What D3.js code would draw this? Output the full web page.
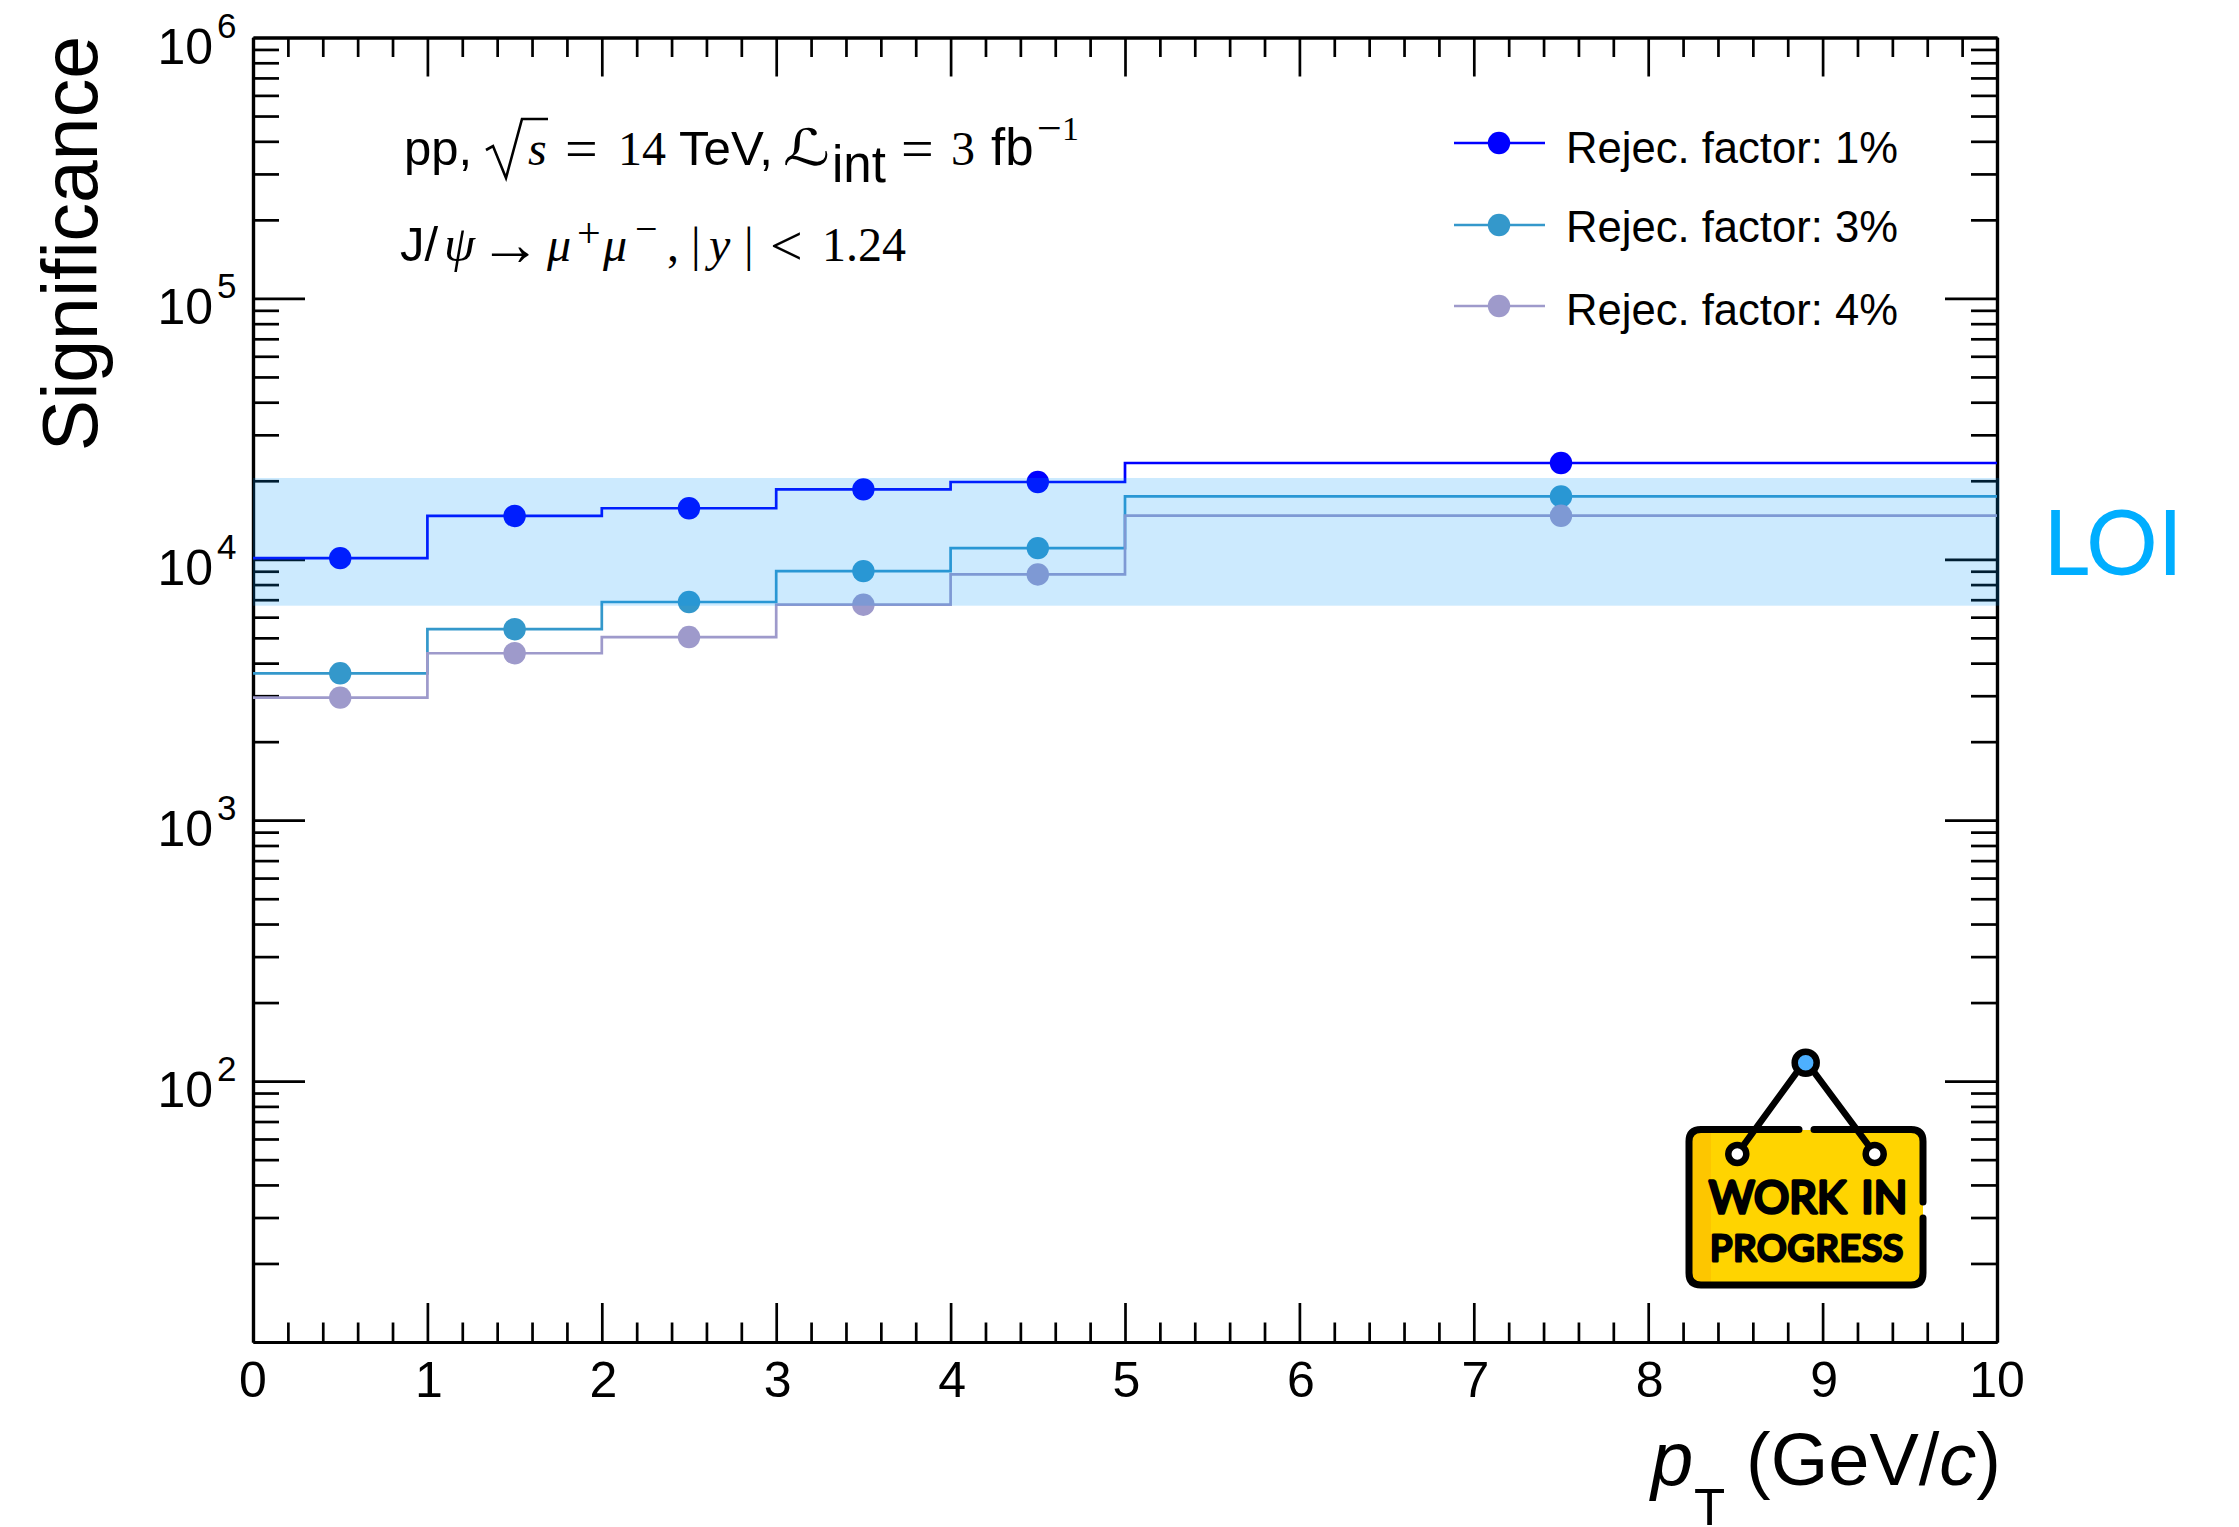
<!DOCTYPE html>
<html>
<head>
<meta charset="utf-8">
<script src="https://cdn.jsdelivr.net/npm/d3@7"></script>
<style>
html,body{margin:0;padding:0;background:#fff;}
svg{display:block;}
text{fill:#000;font-family:"Liberation Sans",Arial,sans-serif;}
</style>
</head>
<body>
<svg id="c" width="2239" height="1527"></svg>
<script>
// ---- data ----
const binEdges = [0,1,2,3,4,5,10];
const binCenters = [0.5,1.5,2.5,3.5,4.5,7.5];
const rej1 = [10100,14660,15690,18540,19780,23390];
const rej3 = [3656,5395,6860,9010,11040,17420];
const rej4 = [2951,4365,5035,6700,8750,14690];
const loiBand = [6640,20500];
const seriesNames = ["Rejec. factor: 1%","Rejec. factor: 3%","Rejec. factor: 4%"];
const seriesColors = ["#0000ff","#3498cb","#9e9acb"];
const xTickValues = [0,1,2,3,4,5,6,7,8,9,10];
const yDecades = [10,100,1000,10000,100000,1000000];
const yLabelled = [2,3,4,5,6];
const allSeries = [rej1,rej3,rej4];

const svg = d3.select("#c");
const L=253,R=1997,T=37.5,B=1342;
const x = d3.scaleLinear().domain([0,10]).range([L,R]);
const y = d3.scaleLog().domain([10,1e6]).range([B,T]);

const xMinor = d3.range(0,50).map(i=>i*0.2).concat([10]).filter(v=>Math.abs(v-Math.round(v))>1e-6);
const yMinor = yDecades.slice(0,-1).flatMap(d=>[2,3,4,5,6,7,8,9].map(m=>d*m));

function axis(gen,tx,ty,vals,size){
  const g = svg.append("g").attr("transform",`translate(${tx},${ty})`)
    .call(gen.tickValues(vals).tickSize(size).tickSizeOuter(0).tickFormat(""));
  g.selectAll("path.domain").attr("stroke","#000").attr("stroke-width",3.2);
  g.selectAll(".tick line").attr("stroke","#000").attr("stroke-width",2.7);
  return g;
}
// x axes: ticks point inward on both bottom and top
axis(d3.axisTop(x),0,B,xTickValues,39);
axis(d3.axisTop(x),0,B,xMinor,19.5);
axis(d3.axisBottom(x),0,T,xTickValues,39);
axis(d3.axisBottom(x),0,T,xMinor,19.5);
// y axes
axis(d3.axisRight(y),L,0,yDecades.slice(1,-1),52);
axis(d3.axisRight(y),L,0,yMinor,26);
axis(d3.axisLeft(y),R,0,yDecades.slice(1,-1),52);
axis(d3.axisLeft(y),R,0,yMinor,26);

// step lines and markers
const stepLine = d3.line().x(d=>x(d[0])).y(d=>y(d[1])).curve(d3.curveStepAfter);
allSeries.forEach((vals,s)=>{
  const pts = binEdges.map((e,i)=>[e,vals[Math.min(i,vals.length-1)]]);
  svg.append("path").attr("d",stepLine(pts)).attr("fill","none")
     .attr("stroke",seriesColors[s]).attr("stroke-width",2.7);
});
allSeries.forEach((vals,s)=>{
  svg.append("g").selectAll("circle").data(vals).join("circle")
     .attr("cx",(d,i)=>x(binCenters[i])).attr("cy",d=>y(d)).attr("r",11.2)
     .attr("fill",seriesColors[s]);
});

// LOI band sits on top of everything, translucent
svg.append("rect").attr("x",x(0)).attr("width",x(10)-x(0)+2.5)
   .attr("y",y(loiBand[1])).attr("height",y(loiBand[0])-y(loiBand[1]))
   .attr("fill","rgb(0,150,250)").attr("fill-opacity",0.2);

function put(px,py,str,size,opt={}){
  const t = svg.append("text").attr("x",px).attr("y",py).text(str).attr("font-size",size);
  if(opt.font) t.style("font-family",opt.font);
  if(opt.italic) t.attr("font-style","italic");
  if(opt.anchor) t.attr("text-anchor",opt.anchor);
  if(opt.fill) t.style("fill",opt.fill);
  if(opt.weight) t.attr("font-weight",opt.weight);
  if(opt.len) t.attr("textLength",opt.len).attr("lengthAdjust",opt.spacing?"spacing":"spacingAndGlyphs");
  return t;
}
const SERIF='"Liberation Serif","Times New Roman",serif';

// tick labels
xTickValues.forEach(v=>put(x(v)+(v%10?1.5:0),1397,String(v),50,{anchor:"middle"}));
yLabelled.forEach(e=>{
  const ty=y(Math.pow(10,e));
  put(213,ty+26,"10",50,{anchor:"end"});
  put(217,ty,String(e),35);
});

// axis titles
svg.append("text").attr("transform","translate(97,36) rotate(-90)")
   .attr("text-anchor","end").attr("font-size",77).text("Significance");
put(1651,1485,"p",76,{italic:true});
put(1694,1525,"T",51);
const xt = put(2001,1485,"",74,{anchor:"end"});
xt.append("tspan").text("(GeV/");
xt.append("tspan").attr("font-style","italic").text("c");
xt.append("tspan").text(")");

// LOI label
put(2043,575,"LOI",92,{font:"Lato,'Liberation Sans',sans-serif",fill:"#00aeff",len:140});

// legend
const legY=[143,225,306], legBase=[163,242,325];
seriesNames.forEach((n,i)=>{
  svg.append("line").attr("x1",1454).attr("x2",1545).attr("y1",legY[i]).attr("y2",legY[i])
     .attr("stroke",seriesColors[i]).attr("stroke-width",2.7);
  svg.append("circle").attr("cx",1499).attr("cy",legY[i]).attr("r",11.2).attr("fill",seriesColors[i]);
  put(1566,legBase[i],n,43.6);
});

// annotation line 1
put(404,165,"pp,",49);
svg.append("path").attr("d","M486,150 L493,146 L506,178 L522,119 L548,119").attr("fill","none").attr("stroke","#000").attr("stroke-width",2.6);
put(528,165,"s",48,{font:SERIF,italic:true});
put(565,168,"=",58,{font:SERIF});
put(618,165,"14",48,{font:SERIF});
put(679,165,"TeV,",49,{len:94});
put(783,165,"\u2112",50,{font:"'DejaVu Serif','DejaVu Sans',serif",italic:true,len:47});
put(832,182,"int",51);
put(901,168,"=",58,{font:SERIF});
put(951,165,"3",48,{font:SERIF});
put(991,165,"fb",51);
put(1037,143,"\u2212",44,{font:SERIF});
put(1062,140,"1",34,{font:SERIF});

// annotation line 2
put(400,261,"J/",49);
put(444,261,"\u03c8",50,{font:SERIF,italic:true});
put(479,265,"\u2192",62,{font:SERIF});
put(547,261,"\u03bc",48,{font:SERIF,italic:true});
put(577,247,"+",42,{font:SERIF});
put(603,261,"\u03bc",48,{font:SERIF,italic:true});
put(635,242,"\u2212",40,{font:SERIF});
put(667,261,",",48,{font:SERIF});
put(691,261,"|",48,{font:SERIF});
put(709,261,"y",48,{font:SERIF,italic:true});
put(744,261,"|",48,{font:SERIF});
put(770,265,"<",58,{font:SERIF});
put(822,261,"1.24",48,{font:SERIF});

// "work in progress" sign
const sign = svg.append("g");
sign.append("rect").attr("x",1689).attr("y",1130).attr("width",234).attr("height",155).attr("rx",12).attr("fill","#ffd400");
sign.append("path").attr("d","M1711,1133 H1701 Q1692,1133 1692,1142 V1273 Q1692,1282 1701,1282 H1711 Z").attr("fill","#fdc600");
sign.append("path").attr("fill","none").attr("stroke","#000").attr("stroke-width",7).attr("stroke-linecap","round")
  .attr("d","M1799,1129.5 H1701 Q1689,1129.5 1689,1141.5 V1273 Q1689,1285 1701,1285 H1911 Q1923,1285 1923,1273 V1218 M1923,1202 V1141.5 Q1923,1129.5 1911,1129.5 H1814");
sign.append("path").attr("fill","none").attr("stroke","#000").attr("stroke-width",6.5).attr("stroke-linecap","round")
  .attr("d","M1797,1072 L1743,1146 M1814,1072 L1869,1146");
sign.append("circle").attr("cx",1805.7).attr("cy",1062.7).attr("r",11).attr("fill","#4db0ff").attr("stroke","#000").attr("stroke-width",6.5);
[1737.3,1874.7].forEach(cx=>sign.append("circle").attr("cx",cx).attr("cy",1154).attr("r",9).attr("fill","#fff").attr("stroke","#000").attr("stroke-width",6.5));
const signFont="Lato,'Open Sans',sans-serif";
put(1709,1213,"WORK IN",44,{font:signFont,weight:400}).style("stroke","#000").style("stroke-width",3.4).style("stroke-linejoin","round").style("stroke-linecap","round").style("word-spacing","4px");
put(1710,1261,"PROGRESS",37,{font:signFont,weight:400,len:193,spacing:true}).style("stroke","#000").style("stroke-width",3.2).style("stroke-linejoin","round").style("stroke-linecap","round");
</script>
</body>
</html>
